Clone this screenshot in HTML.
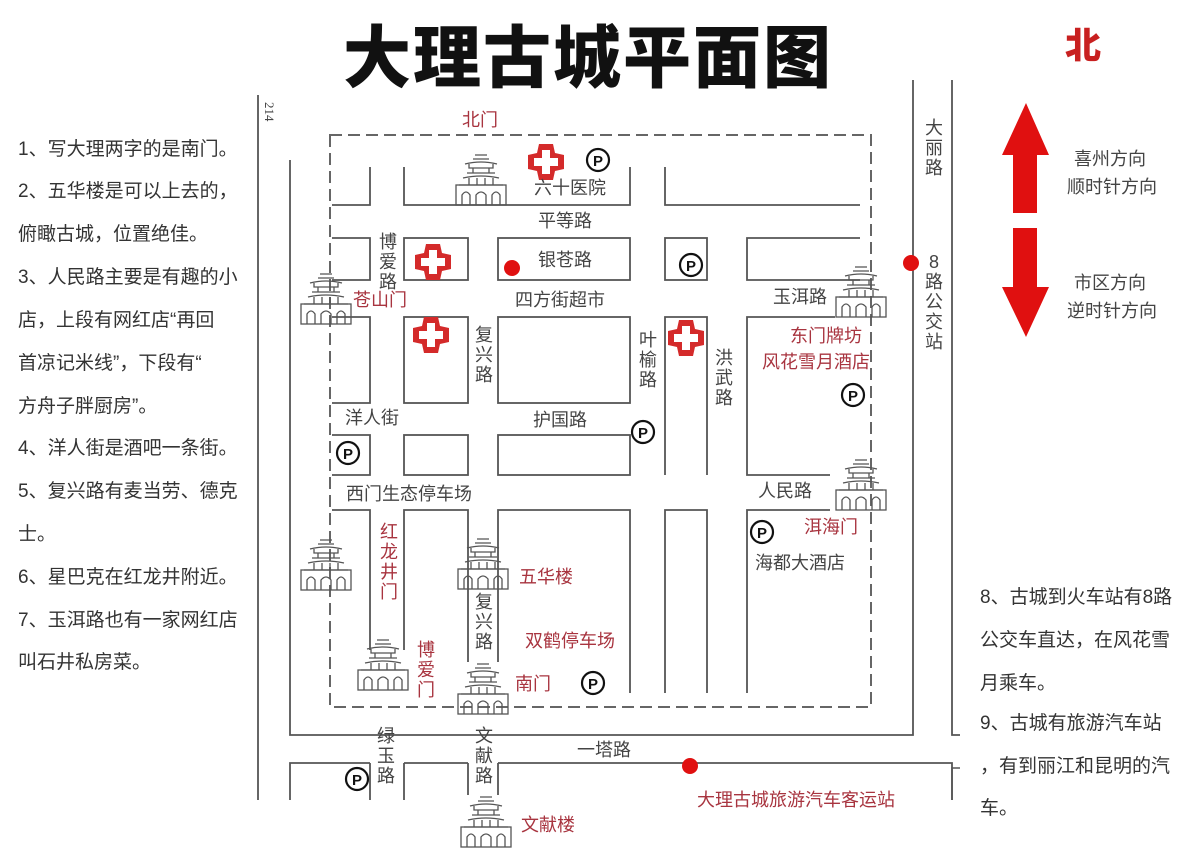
<!DOCTYPE html>
<html><head><meta charset="utf-8"><style>
html,body{margin:0;padding:0;background:#fff;}
svg{display:block;}
text{font-family:"Liberation Sans","Noto Sans CJK SC",sans-serif;}
.g{fill:#444;font-size:18px;}
.r{fill:#a8343f;font-size:18px;}
.t{fill:#333;font-size:19px;}
</style></head><body>
<svg width="1200" height="848" viewBox="0 0 1200 848" xmlns="http://www.w3.org/2000/svg">
<defs>
<g id="gate" fill="none" stroke="#555" stroke-width="1.3">
  <path d="M20 2 H32 M18 6 H34 M10 11 Q26 7 42 11 M14 11 V15 H38 V11 M18 15 V20 M34 15 V20 M12 20 H40 M8 25 Q26 21 44 25 M14 25 V32 M22 25 V32 M30 25 V32 M38 25 V32 M4 32 H48"/>
  <rect x="1" y="32" width="50" height="20"/>
  <path d="M7 52 V42 Q11 36 15 42 V52 M21 52 V42 Q26 36 31 42 V52 M37 52 V42 Q41 36 45 42 V52"/>
</g>
<g id="cross">
  <path d="M-7 -18 H7 L9 -9 L18 -7 V7 L9 9 L7 18 H-7 L-9 9 L-18 7 V-7 L-9 -9 Z" fill="#d42a2a"/>
  <path d="M-4 -12 H4 V-4 H12 V4 H4 V12 H-4 V4 H-12 V-4 H-4 Z" fill="#fff"/>
</g>
<g id="park">
  <circle r="11" fill="#fff" stroke="#111" stroke-width="2.2"/>
  <text x="0" y="6" text-anchor="middle" font-size="15" font-weight="bold" fill="#111" style="font-family:'Liberation Sans',sans-serif">P</text>
</g>
</defs>

<!-- title -->
<text x="588" y="82" text-anchor="middle" font-size="68" font-weight="bold" fill="#111" style="font-family:'Noto Sans CJK SC',sans-serif;font-weight:900" letter-spacing="2">大理古城平面图</text>
<text x="1083" y="58" text-anchor="middle" font-size="36" font-weight="900" fill="#c82020" style="font-family:'Noto Sans CJK SC',sans-serif">北</text>

<!-- arrows -->
<path d="M1026 103 L1049 155 H1037 V213 H1013 V155 H1002 Z" fill="#e01010"/>
<path d="M1013 228 H1037 V287 H1049 L1026 337 L1002 287 H1013 Z" fill="#e01010"/>
<text class="g" x="1110" y="165" text-anchor="middle">喜州方向</text>
<text class="g" x="1112" y="193" text-anchor="middle">顺时针方向</text>
<text class="g" x="1110" y="289" text-anchor="middle">市区方向</text>
<text class="g" x="1112" y="317" text-anchor="middle">逆时针方向</text>

<!-- outer roads -->
<g stroke="#555" stroke-width="1.8" fill="none">
  <path d="M258 95 V800"/>
  <path d="M290 160 V735 H913 V80"/>
  <path d="M952 80 V735 H960"/>
  <path d="M290 800 V763 H370 M404 763 H468 M498 763 H952 V800"/>
  <path d="M370 763 V800 M404 763 V800 M468 763 V795 M498 763 V795"/>
  <path d="M960 768 H952 V800" stroke-width="1.5"/>
</g>

<!-- dashed wall -->
<rect x="330" y="135" width="541" height="572" fill="none" stroke="#666" stroke-width="2" stroke-dasharray="12,6"/>

<!-- blocks -->
<g stroke="#555" stroke-width="1.8" fill="none">
  <!-- row1 -->
  <path d="M332 205 H370 V167"/>
  <path d="M404 167 V205 H630 V167"/>
  <path d="M665 167 V205 H860"/>
  <!-- row2 -->
  <path d="M332 238 H370 V280 H332"/>
  <rect x="404" y="238" width="64" height="42"/>
  <rect x="498" y="238" width="132" height="42"/>
  <rect x="665" y="238" width="42" height="42"/>
  <path d="M860 238 H747 V280 H860"/>
  <!-- row3 -->
  <path d="M332 317 H370 V403 H332"/>
  <rect x="404" y="317" width="64" height="86"/>
  <rect x="498" y="317" width="132" height="86"/>
  <path d="M665 475 V317 H707 V475"/>
  <path d="M830 475 H747 V317 H835"/>
  <!-- row4 -->
  <path d="M332 435 H370 V475 H332"/>
  <rect x="404" y="435" width="64" height="40"/>
  <rect x="498" y="435" width="132" height="40"/>
  <!-- row5 -->
  <path d="M332 510 H370 V650"/>
  <path d="M404 650 V510 H468 V662"/>
  <path d="M498 662 V510 H630 V693"/>
  <path d="M665 693 V510 H707 V693"/>
  <path d="M747 693 V510 H830"/>
</g>

<!-- gates -->
<use href="#gate" x="455" y="153"/>
<use href="#gate" x="300" y="272"/>
<use href="#gate" x="835" y="265"/>
<use href="#gate" x="835" y="458"/>
<use href="#gate" x="300" y="538"/>
<use href="#gate" x="457" y="537"/>
<use href="#gate" x="357" y="638"/>
<use href="#gate" x="457" y="662"/>
<use href="#gate" x="460" y="795"/>

<!-- crosses -->
<use href="#cross" x="546" y="162"/>
<use href="#cross" x="433" y="262"/>
<use href="#cross" x="431" y="335"/>
<use href="#cross" x="686" y="338"/>

<!-- parking -->
<use href="#park" x="598" y="160"/>
<use href="#park" x="691" y="265"/>
<use href="#park" x="853" y="395"/>
<use href="#park" x="643" y="432"/>
<use href="#park" x="348" y="453"/>
<use href="#park" x="762" y="532"/>
<use href="#park" x="593" y="683"/>
<use href="#park" x="357" y="779"/>

<!-- red dots -->
<circle cx="512" cy="268" r="8" fill="#e01010"/>
<circle cx="911" cy="263" r="8" fill="#e01010"/>
<circle cx="690" cy="766" r="8" fill="#e01010"/>

<!-- labels -->
<text class="r" x="480" y="126" text-anchor="middle">北门</text>
<text class="g" x="570" y="194" text-anchor="middle">六十医院</text>
<text class="g" x="565" y="227" text-anchor="middle">平等路</text>
<text class="g" x="565" y="266" text-anchor="middle">银苍路</text>
<text class="g" x="560" y="306" text-anchor="middle">四方街超市</text>
<text class="g" x="388" y="248" text-anchor="middle">博</text>
<text class="g" x="388" y="268" text-anchor="middle">爱</text>
<text class="g" x="388" y="288" text-anchor="middle">路</text>
<text class="r" x="380" y="306" text-anchor="middle">苍山门</text>
<text class="g" x="484" y="341" text-anchor="middle">复</text>
<text class="g" x="484" y="361" text-anchor="middle">兴</text>
<text class="g" x="484" y="381" text-anchor="middle">路</text>
<text class="g" x="648" y="346" text-anchor="middle">叶</text>
<text class="g" x="648" y="366" text-anchor="middle">榆</text>
<text class="g" x="648" y="386" text-anchor="middle">路</text>
<text class="g" x="724" y="364" text-anchor="middle">洪</text>
<text class="g" x="724" y="384" text-anchor="middle">武</text>
<text class="g" x="724" y="404" text-anchor="middle">路</text>
<text class="g" x="800" y="303" text-anchor="middle">玉洱路</text>
<text class="r" x="826" y="342" text-anchor="middle">东门牌坊</text>
<text class="r" x="816" y="368" text-anchor="middle">风花雪月酒店</text>
<text class="g" x="372" y="424" text-anchor="middle">洋人街</text>
<text class="g" x="560" y="426" text-anchor="middle">护国路</text>
<text class="g" x="409" y="500" text-anchor="middle">西门生态停车场</text>
<text class="g" x="785" y="497" text-anchor="middle">人民路</text>
<text class="r" x="831" y="533" text-anchor="middle">洱海门</text>
<text class="g" x="800" y="569" text-anchor="middle">海都大酒店</text>
<text class="r" x="389" y="538" text-anchor="middle">红</text>
<text class="r" x="389" y="558" text-anchor="middle">龙</text>
<text class="r" x="389" y="578" text-anchor="middle">井</text>
<text class="r" x="389" y="598" text-anchor="middle">门</text>
<text class="r" x="546" y="583" text-anchor="middle">五华楼</text>
<text class="g" x="484" y="608" text-anchor="middle">复</text>
<text class="g" x="484" y="628" text-anchor="middle">兴</text>
<text class="g" x="484" y="648" text-anchor="middle">路</text>
<text class="r" x="570" y="647" text-anchor="middle">双鹤停车场</text>
<text class="r" x="426" y="656" text-anchor="middle">博</text>
<text class="r" x="426" y="676" text-anchor="middle">爱</text>
<text class="r" x="426" y="696" text-anchor="middle">门</text>
<text class="r" x="533" y="690" text-anchor="middle">南门</text>
<text class="g" x="386" y="742" text-anchor="middle">绿</text>
<text class="g" x="386" y="762" text-anchor="middle">玉</text>
<text class="g" x="386" y="782" text-anchor="middle">路</text>
<text class="g" x="484" y="742" text-anchor="middle">文</text>
<text class="g" x="484" y="762" text-anchor="middle">献</text>
<text class="g" x="484" y="782" text-anchor="middle">路</text>
<text class="g" x="604" y="756" text-anchor="middle">一塔路</text>
<text class="r" x="796" y="806" text-anchor="middle">大理古城旅游汽车客运站</text>
<text class="r" x="548" y="831" text-anchor="middle">文献楼</text>
<text class="g" x="934" y="134" text-anchor="middle">大</text>
<text class="g" x="934" y="154" text-anchor="middle">丽</text>
<text class="g" x="934" y="174" text-anchor="middle">路</text>
<text class="g" x="934" y="268" text-anchor="middle">8</text>
<text class="g" x="934" y="288" text-anchor="middle">路</text>
<text class="g" x="934" y="308" text-anchor="middle">公</text>
<text class="g" x="934" y="328" text-anchor="middle">交</text>
<text class="g" x="934" y="348" text-anchor="middle">站</text>
<text x="265" y="102" font-size="13" fill="#444" transform="rotate(90 265 102)" style="font-family:'Liberation Serif',serif">214</text>

<!-- left notes -->
<g class="t">
<text x="18" y="155">1、写大理两字的是南门。</text>
<text x="18" y="197">2、五华楼是可以上去的，</text>
<text x="18" y="240">俯瞰古城，位置绝佳。</text>
<text x="18" y="283">3、人民路主要是有趣的小</text>
<text x="18" y="326">店，上段有网红店“再回</text>
<text x="18" y="369">首凉记米线”，下段有“</text>
<text x="18" y="412">方舟子胖厨房”。</text>
<text x="18" y="454">4、洋人街是酒吧一条街。</text>
<text x="18" y="497">5、复兴路有麦当劳、德克</text>
<text x="18" y="540">士。</text>
<text x="18" y="583">6、星巴克在红龙井附近。</text>
<text x="18" y="626">7、玉洱路也有一家网红店</text>
<text x="18" y="668">叫石井私房菜。</text>
</g>
<!-- right notes -->
<g class="t">
<text x="980" y="603">8、古城到火车站有8路</text>
<text x="980" y="646">公交车直达，在风花雪</text>
<text x="980" y="689">月乘车。</text>
<text x="980" y="729">9、古城有旅游汽车站</text>
<text x="980" y="772">，有到丽江和昆明的汽</text>
<text x="980" y="814">车。</text>
</g>
</svg>
</body></html>
